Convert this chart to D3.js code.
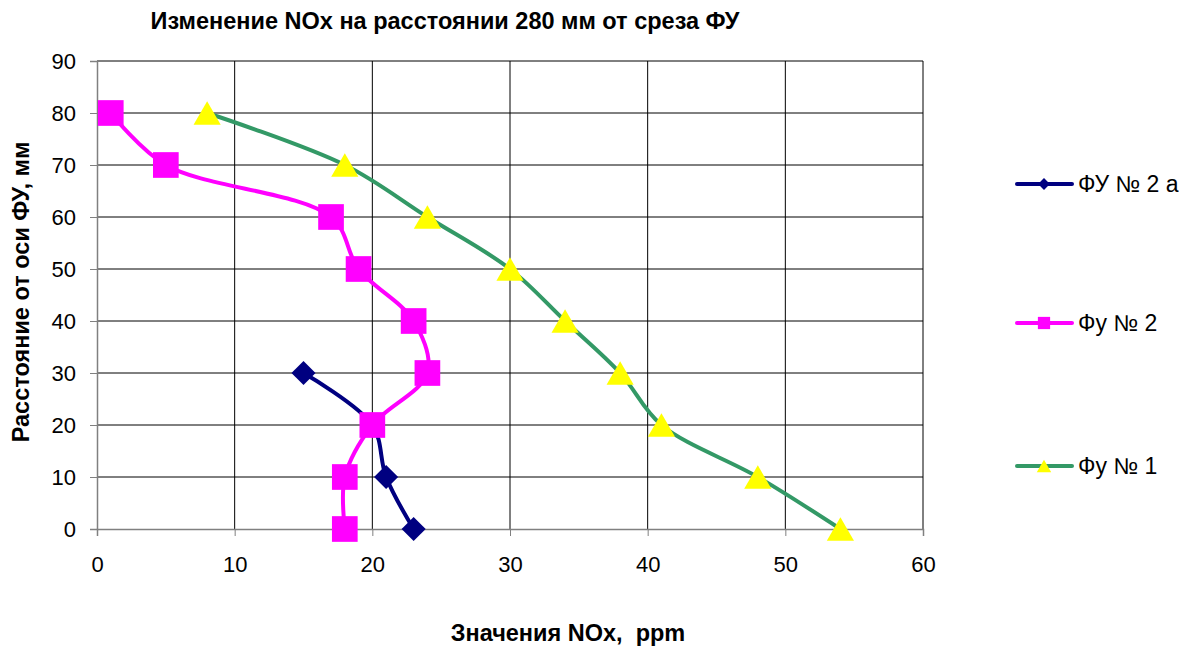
<!DOCTYPE html>
<html>
<head>
<meta charset="utf-8">
<script src="https://cdn.jsdelivr.net/npm/d3@7"></script>
<style>
  body { margin: 0; background: #fff; }
  text { font-family: "Liberation Sans", Arial, sans-serif; }
</style>
</head>
<body>
<svg width="1179" height="653"></svg>
<script>
var svg = d3.select('svg')

var xTicks = [0, 10, 20, 30, 40, 50, 60]
var yTicks = [0, 10, 20, 30, 40, 50, 60, 70, 80, 90]

var seriesNames = ['ФУ № 2 а', 'Фу № 2', 'Фу № 1']
var fu2a = [[15, 30], [20, 20], [21, 10], [23, 0]]
var fu2 = [[1, 80], [5, 70], [17, 60], [19, 50], [23, 40], [24, 30], [20, 20], [18, 10], [18, 0]]
var fu1 = [[8, 80], [18, 70], [24, 60], [30, 50], [34, 40], [38, 30], [41, 20], [48, 10], [54, 0]]

var x = d3.scaleLinear().domain([0, 60]).range([97, 923])
var y = d3.scaleLinear().domain([0, 90]).range([529, 61])

// grid
svg.append('g')
  .selectAll('line')
  .data(yTicks.slice(1))
  .enter()
  .append('line')
  .attr('x1', x(0)).attr('x2', x(60))
  .attr('y1', function (d) { return y(d) }).attr('y2', function (d) { return y(d) })
  .style('stroke', '#000').style('stroke-width', 1)

svg.append('g')
  .selectAll('line')
  .data(xTicks.slice(1))
  .enter()
  .append('line')
  .attr('y1', y(0)).attr('y2', y(90))
  .attr('x1', function (d) { return x(d) }).attr('x2', function (d) { return x(d) })
  .style('stroke', '#000').style('stroke-width', 1)

// axes
var xAxis = svg.append('g')
  .attr('transform', 'translate(0,' + y(0) + ')')
  .call(d3.axisBottom(x).tickValues(xTicks).tickSize(7).tickPadding(20))
var yAxis = svg.append('g')
  .attr('transform', 'translate(' + x(0) + ',0)')
  .call(d3.axisLeft(y).tickValues(yTicks).tickSize(7).tickPadding(14))

;[xAxis, yAxis].forEach(function (a) {
  a.select('.domain').style('stroke', '#808080').style('stroke-width', 1.5)
  a.selectAll('.tick line').style('stroke', '#808080')
  a.selectAll('.tick text')
    .style('font-size', '22px')
    .style('fill', '#000')
    .style('font-family', '"Liberation Sans", Arial, sans-serif')
})

// series
var line = d3.line()
  .x(function (d) { return x(d[0]) })
  .y(function (d) { return y(d[1]) })
  .curve(d3.curveCatmullRom.alpha(0.5))

var series = [
  { name: seriesNames[0], data: fu2a, color: '#000080', fill: '#000080', sym: d3.symbolSquare, size: 290, rot: 45, dy: 0, lsize: 70 },
  { name: seriesNames[1], data: fu2, color: '#ff00ff', fill: '#ff00ff', sym: d3.symbolSquare, size: 660, rot: 0, dy: 0, lsize: 150 },
  { name: seriesNames[2], data: fu1, color: '#339966', fill: '#ffff00', sym: d3.symbolTriangle, size: 320, rot: 0, dy: 4, lsize: 90 }
]

// draw in order green, navy, pink so pink sits on top of navy
var order = [2, 0, 1]
order.forEach(function (i) {
  var s = series[i]
  svg.append('path')
    .attr('d', line(s.data))
    .style('fill', 'none')
    .style('stroke', s.color)
    .style('stroke-width', 4)

  svg.append('g')
    .selectAll('path')
    .data(s.data)
    .enter()
    .append('path')
    .attr('d', d3.symbol().type(s.sym).size(s.size))
    .attr('transform', function (d) {
      var t = 'translate(' + x(d[0]) + ',' + (y(d[1]) + s.dy) + ')'
      return s.rot ? t + ' rotate(' + s.rot + ')' : t
    })
    .style('fill', s.fill)
})

// legend
var legendY = [184, 323, 466]
series.forEach(function (s, i) {
  var g = svg.append('g').attr('transform', 'translate(0,' + legendY[i] + ')')
  g.append('line')
    .attr('x1', 1017).attr('x2', 1072)
    .style('stroke', s.color).style('stroke-width', 4).style('stroke-linecap', 'round')
  g.append('path')
    .attr('d', d3.symbol().type(s.sym).size(s.lsize))
    .attr('transform', 'translate(1044,' + (s.dy / 2) + ')' + (s.rot ? ' rotate(' + s.rot + ')' : ''))
    .style('fill', s.fill)
  g.append('text')
    .attr('x', 1078).attr('y', 8)
    .style('font-size', '23px')
    .text(s.name)
})

// titles
svg.append('text')
  .attr('x', 445).attr('y', 29)
  .attr('text-anchor', 'middle')
  .style('font-size', '23.5px').style('font-weight', 'bold')
  .text('Изменение NOx на расстоянии 280 мм от среза ФУ')

svg.append('text')
  .attr('x', 568).attr('y', 641)
  .attr('text-anchor', 'middle')
  .style('font-size', '23.5px').style('font-weight', 'bold')
  .text('Значения NOx,\u00a0 ppm')

svg.append('text')
  .attr('transform', 'translate(29,292) rotate(-90)')
  .attr('text-anchor', 'middle')
  .style('font-size', '23.5px').style('font-weight', 'bold')
  .text('Расстояние от оси ФУ, мм')
</script>
</body>
</html>
